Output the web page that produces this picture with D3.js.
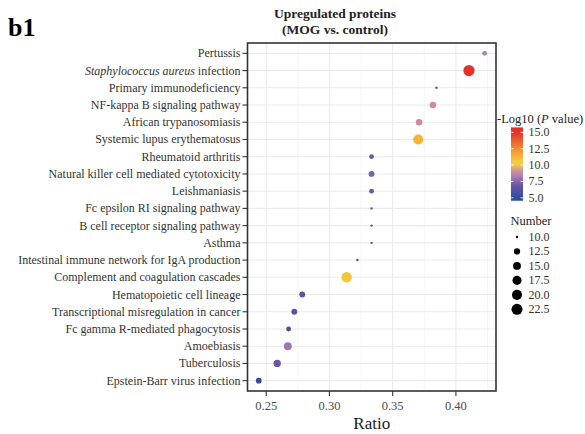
<!DOCTYPE html>
<html><head><meta charset="utf-8">
<script src="https://cdn.jsdelivr.net/npm/d3@7"></script>
<style>body{margin:0;background:#fff}svg{display:block}text{font-family:"Liberation Serif","Times New Roman",serif}</style>
</head><body><svg id="c" width="585" height="434"></svg>
<script>
const categories = ["Pertussis","Staphylococcus aureus infection","Primary immunodeficiency","NF-kappa B signaling pathway","African trypanosomiasis","Systemic lupus erythematosus","Rheumatoid arthritis","Natural killer cell mediated cytotoxicity","Leishmaniasis","Fc epsilon RI signaling pathway","B cell receptor signaling pathway","Asthma","Intestinal immune network for IgA production","Complement and coagulation cascades","Hematopoietic cell lineage","Transcriptional misregulation in cancer","Fc gamma R-mediated phagocytosis","Amoebiasis","Tuberculosis","Epstein-Barr virus infection"];
const ratio = [0.4227,0.4103,0.3846,0.3818,0.3709,0.3702,0.3333,0.3333,0.3333,0.3333,0.3333,0.3333,0.3221,0.3136,0.2785,0.2722,0.2677,0.2671,0.2587,0.2441];
const number = [11,23,10,13,13,20,11,12,11,10,10,10,10,21,12,12,11,15,14,12];
const logP = [8.4,15,6.5,9.0,9.0,11.3,7.0,7.3,7.0,6.5,6.5,6.3,6.0,10.8,6.5,6.3,5.6,8.0,7.0,5.2];
const xTicks = [0.25,0.30,0.35,0.40];
const colorTicks = [5.0,7.5,10.0,12.5,15.0];
const sizeTicks = [10.0,12.5,15.0,17.5,20.0,22.5];

const svg = d3.select("#c");
const L=247.5,R=496,T=43,B=391;
const x = d3.scaleLinear().domain([0.2352,0.4317]).range([L,R]);
const y = d3.scalePoint().domain(categories).range([T,B]).padding(0.6);
const color = d3.scaleLinear().domain([5,7,8.5,9.0,10.3,12.5,15]).range(["#2f4b9e","#6e55a6","#b585b5","#d08c98","#f2d640","#f28c32","#e3302c"]).clamp(true);
const sizeT = d3.scaleLinear().domain([10,23]).range([0,1]).clamp(true);
const rad = v => 1.2 + 4.4*Math.sqrt(sizeT(v));

// grid
const g = svg.append("g");
const minor = [0.275,0.325,0.375,0.425];
g.selectAll(".mn").data(minor).join("line").attr("x1",d=>x(d)).attr("x2",d=>x(d)).attr("y1",T).attr("y2",B).attr("stroke","#f2f2f2").attr("stroke-width",0.8);
g.selectAll(".mj").data(xTicks).join("line").attr("x1",d=>x(d)).attr("x2",d=>x(d)).attr("y1",T).attr("y2",B).attr("stroke","#ebebeb").attr("stroke-width",1.1);
g.selectAll(".hy").data(categories).join("line").attr("x1",L).attr("x2",R).attr("y1",d=>y(d)).attr("y2",d=>y(d)).attr("stroke","#ebebeb").attr("stroke-width",1.1);

// points
const data = categories.map((c,i)=>({c,r:ratio[i],n:number[i],p:logP[i]}));
svg.append("g").selectAll("circle").data(data).join("circle")
  .attr("cx",d=>x(d.r)).attr("cy",d=>y(d.c)).attr("r",d=>rad(d.n)).attr("fill",d=>color(d.p));

// border
svg.append("rect").attr("x",L).attr("y",T).attr("width",R-L).attr("height",B-T).attr("fill","none").attr("stroke","#333").attr("stroke-width",1.6);

// x axis
const xa = svg.append("g");
xa.selectAll("line").data(xTicks).join("line").attr("x1",d=>x(d)).attr("x2",d=>x(d)).attr("y1",B).attr("y2",B+5).attr("stroke","#333").attr("stroke-width",1.1);
xa.selectAll("text").data(xTicks).join("text").attr("x",d=>x(d)).attr("y",B+19).attr("text-anchor","middle").attr("font-size",12.5).attr("fill","#4d4d4d").text(d=>d3.format(".2f")(d));
svg.append("text").attr("x",(L+R)/2).attr("y",429).attr("text-anchor","middle").attr("font-size",17).attr("fill","#1a1a1a").text("Ratio");

// y axis
const ya = svg.append("g");
ya.selectAll("line").data(categories).join("line").attr("x1",L-5).attr("x2",L).attr("y1",d=>y(d)).attr("y2",d=>y(d)).attr("stroke","#333").attr("stroke-width",1.1);
ya.selectAll("text").data(categories).join("text").attr("x",L-7).attr("y",d=>y(d)+4).attr("text-anchor","end").attr("font-size",12).attr("fill","#333")
  .each(function(d){
    const t=d3.select(this);
    if(d.startsWith("Staphylococcus aureus")){
      t.append("tspan").attr("font-style","italic").text("Staphylococcus aureus");
      t.append("tspan").text(d.replace("Staphylococcus aureus",""));
    } else t.text(d);
  });

// titles
svg.append("text").attr("x",335).attr("y",18).attr("text-anchor","middle").attr("font-size",13.5).attr("font-weight","bold").attr("fill","#222").text("Upregulated proteins");
svg.append("text").attr("x",335).attr("y",34).attr("text-anchor","middle").attr("font-size",13.5).attr("font-weight","bold").attr("fill","#222").text("(MOG vs. control)");
svg.append("text").attr("x",8).attr("y",36).attr("font-size",26).attr("font-weight","bold").attr("fill","#000").text("b1");

// color legend
const lt = svg.append("text").attr("x",497).attr("y",123).attr("font-size",12.5).attr("fill","#222");
lt.append("tspan").text("-Log10 (");
lt.append("tspan").attr("font-style","italic").text("P");
lt.append("tspan").text(" value)");
const cy = d3.scaleLinear().domain([5,15]).range([197.8,132.3]);
const defs = svg.append("defs");
const grad = defs.append("linearGradient").attr("id","cg").attr("x1",0).attr("y1",1).attr("x2",0).attr("y2",0);
const lo=4.55, hi=15.75;
d3.range(0,1.0001,0.05).forEach(t=>{const v=lo+t*(hi-lo);grad.append("stop").attr("offset",t).attr("stop-color",color(v));});
svg.append("rect").attr("x",511).attr("y",cy(hi)).attr("width",12).attr("height",cy(lo)-cy(hi)).attr("fill","url(#cg)");
svg.append("g").selectAll("line").data(colorTicks).join("line").attr("x1",511).attr("x2",513.5).attr("y1",d=>cy(d)).attr("y2",d=>cy(d)).attr("stroke","#fff").attr("stroke-width",0.8);
svg.append("g").selectAll("line").data(colorTicks).join("line").attr("x1",520.5).attr("x2",523).attr("y1",d=>cy(d)).attr("y2",d=>cy(d)).attr("stroke","#fff").attr("stroke-width",0.8);
svg.append("g").selectAll("text").data(colorTicks).join("text").attr("x",528.5).attr("y",d=>cy(d)+4).attr("font-size",12).attr("fill","#333").text(d=>d3.format(".1f")(d));

// size legend
svg.append("text").attr("x",510.5).attr("y",225).attr("font-size",12.5).attr("fill","#222").text("Number");
const sy = d3.scaleLinear().domain([10,22.5]).range([237,309.3]);
svg.append("g").selectAll("circle").data(sizeTicks).join("circle").attr("cx",517).attr("cy",d=>sy(d)).attr("r",d=>rad(d)).attr("fill","#000");
svg.append("g").selectAll("text").data(sizeTicks).join("text").attr("x",528.5).attr("y",d=>sy(d)+4).attr("font-size",12).attr("fill","#333").text(d=>d3.format(".1f")(d));
</script></body></html>
